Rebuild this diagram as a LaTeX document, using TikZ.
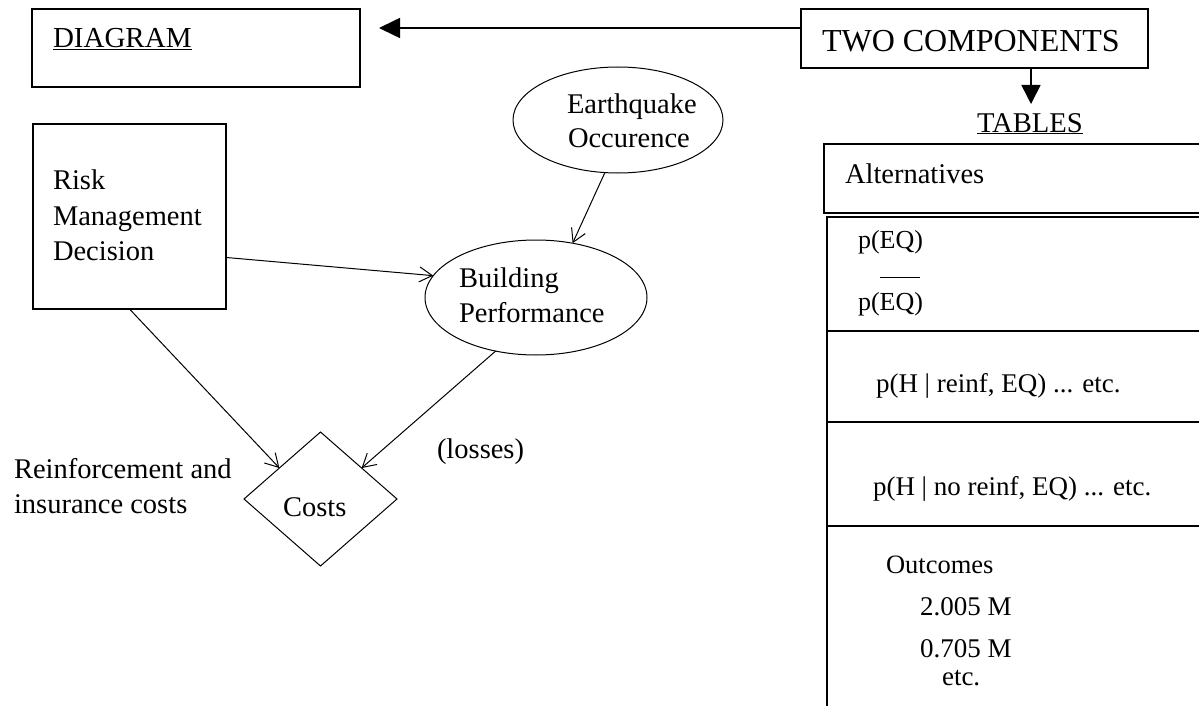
\documentclass[tikz,border=0pt]{standalone}
\usepackage{fontspec}
\setmainfont{Liberation Serif}
\usetikzlibrary{shapes.geometric,arrows.meta}
\begin{document}
\begin{tikzpicture}[x=1pt,y=-1pt,
  every node/.style={inner sep=0pt,outer sep=0pt},
  txt/.style={anchor=base west,font=\fontsize{28.5}{34}\selectfont},
  tabtxt/.style={anchor=base west,font=\fontsize{27}{32}\selectfont},
  frame/.style={draw,rectangle,line width=1.6pt},
  oval/.style={draw,ellipse,line width=1pt},
  link/.style={line width=1pt,-{Straight Barb[length=13pt,width=15pt,line width=1pt]}},
  bigtip/.style={line width=1.6pt,-{Triangle[length=21pt,width=20pt]}},
]
\useasboundingbox (0,0) rectangle (1199,706);
\clip (0,0) rectangle (1199,706);

% --- frames of the two components ---
\node[frame, minimum width=328pt, minimum height=78pt] (diag) at (196,48) {};
\node[frame, minimum width=347pt, minimum height=59pt] (two) at (974.5,38.5) {};
\node[txt, font=\fontsize{29}{34}\selectfont] (diaglbl) at (53,48) {\underline{DIAGRAM}};
\node[txt, font=\fontsize{32}{38}\selectfont] (twolbl) at (822,52) {TWO COMPONENTS};

% --- influence diagram ---
\node[frame, minimum width=193pt, minimum height=185pt] (risk) at (129.5,216.5) {};
\node[oval, minimum width=210pt, minimum height=106pt] (eq) at (618,120) {};
\node[oval, minimum width=222pt, minimum height=115pt] (bp) at (536,297.5) {};
\node[draw, diamond, line width=1pt, minimum width=153pt, minimum height=134pt] (costs) at (320.5,499) {};

\node[txt] (riskA) at (53,189) {Risk};
\node[txt] (riskB) at (53,225) {Management};
\node[txt] (riskC) at (53,260) {Decision};
\node[txt] (eqA) at (567,114) {Earthquake};
\node[txt] (eqB) at (568,148) {Occurence};
\node[txt] (bpA) at (459,287) {Building};
\node[txt] (bpB) at (459,322) {Performance};
\node[txt] (costlbl) at (283,516) {Costs};
\node[txt] (losses) at (437,458) {(losses)};
\node[txt] (reinfA) at (14,478) {Reinforcement and};
\node[txt] (reinfB) at (14,513) {insurance costs};

\draw[link] (risk.-23.8) -- (bp.168.4);
\draw[link] (eq.256.9) -- (bp.56.8);
\draw[link] (risk.south) -- (costs.143);
\draw[link] (bp.233.2) -- (costs.37.2);

% --- arrows from the two components ---
\coordinate (diagtip) at (379,28);
\draw[bigtip] (two.west |- diagtip) -- (diagtip);
\coordinate (tabtip) at (1031,104);
\draw[line width=1.6pt,-{Triangle[length=19pt,width=19pt]}] (two.south -| tabtip) -- (tabtip);

% --- tables ---
\node[txt, font=\fontsize{28.6}{34}\selectfont] (tableslbl) at (977,132) {\underline{TABLES}};
\node[frame, minimum width=391pt, minimum height=69pt] (alt) at (1019.5,178.5) {};
\node[txt] (altlbl) at (845,183) {Alternatives};
\node[frame, minimum width=388pt, minimum height=513pt] (tbl) at (1021,473.5) {};
\foreach \yy in {331,422,526}
  \draw[line width=1.6pt] (tbl.west |- 0,\yy) -- (tbl.east |- 0,\yy);

\node[tabtxt, font=\fontsize{26}{31}\selectfont] (peq) at (858,248) {p(EQ)};
\node[tabtxt, font=\fontsize{26}{31}\selectfont] (pneq) at (858,310)
  {p(\makebox[0pt][l]{\raisebox{32pt}{\rule{40pt}{1.3pt}}}EQ)};
\node[tabtxt] (phr) at (876,392) {p(H | reinf, EQ) ... etc.};
\node[tabtxt] (phnr) at (873,495) {p(H | no reinf, EQ) ... etc.};
\node[tabtxt, font=\fontsize{26.5}{31}\selectfont] (outc) at (886,573) {Outcomes};
\node[tabtxt] (outA) at (920,615) {2.005 M};
\node[tabtxt] (outB) at (920,657) {0.705 M};
\node[tabtxt] (outC) at (942,685) {etc.};
\end{tikzpicture}
\end{document}
